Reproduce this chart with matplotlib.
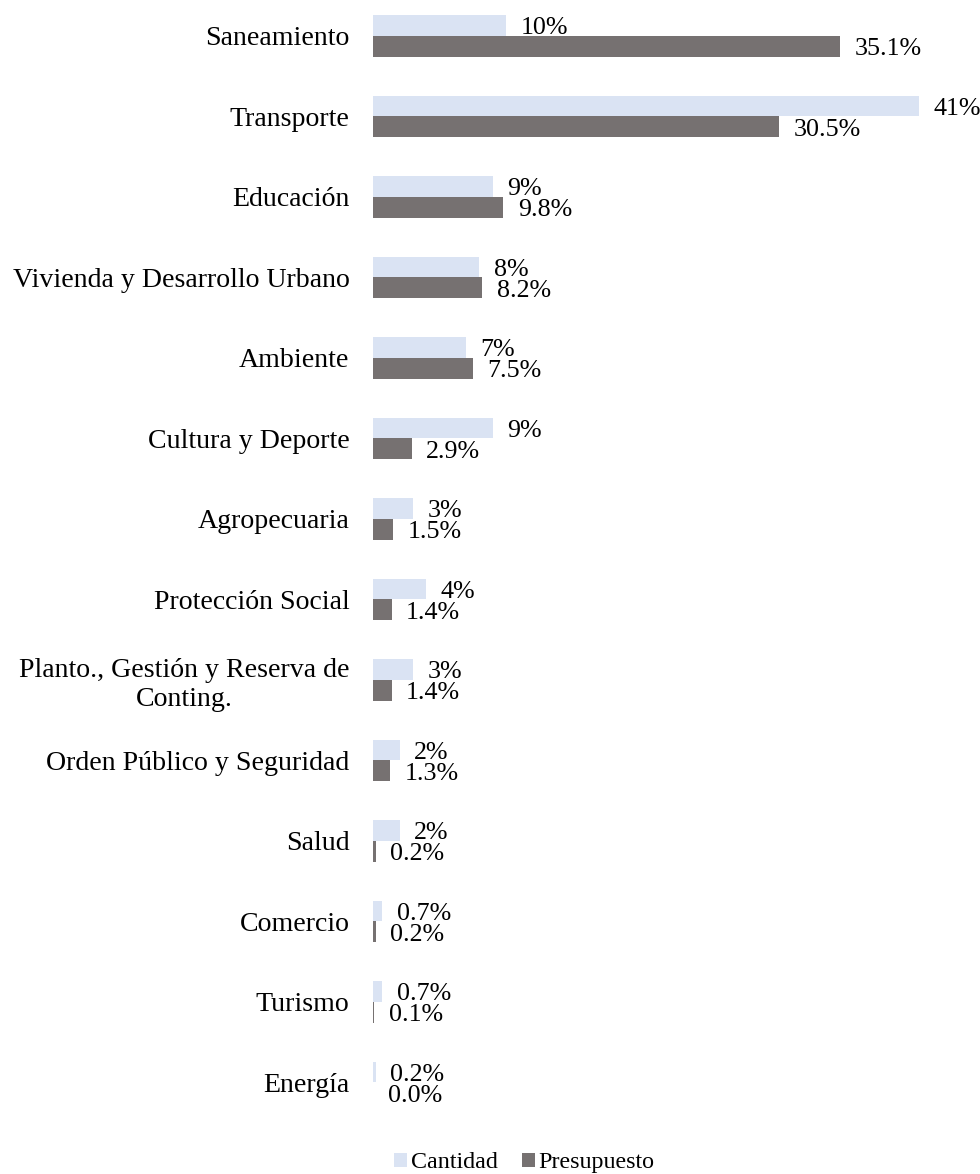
import numpy as np
import matplotlib
matplotlib.use("Agg")
import matplotlib.pyplot as plt

plt.rcParams['font.family'] = ['Liberation Serif', 'DejaVu Serif']

sectores = ["Saneamiento", "Transporte", "Educación", "Vivienda y Desarrollo Urbano",
            "Ambiente", "Cultura y Deporte", "Agropecuaria", "Protección Social",
            "Planto., Gestión y Reserva de\nConting.", "Orden Público y Seguridad",
            "Salud", "Comercio", "Turismo", "Energía"]
cantidad = [10, 41, 9, 8, 7, 9, 3, 4, 3, 2, 2, 0.7, 0.7, 0.2]
presupuesto = [35.1, 30.5, 9.8, 8.2, 7.5, 2.9, 1.5, 1.4, 1.4, 1.3, 0.2, 0.2, 0.1, 0.0]

c_cant = "#DAE3F3"
c_pres = "#767171"


def fmt_cant(v):
    return f"{v:.1f}%" if v < 1 else f"{v:.0f}%"


fig = plt.figure(figsize=(9.8, 11.74), dpi=100)
ax = fig.add_axes([0.3806, 0.0375, 0.6153, 0.9625])

y = np.arange(len(sectores))
h = 0.26
b1 = ax.barh(y - h / 2, cantidad, height=h, color=c_cant, label="Cantidad")
b2 = ax.barh(y + h / 2, presupuesto, height=h, color=c_pres, label="Presupuesto")

for rect, v in zip(b1, cantidad):
    ax.annotate(fmt_cant(v), (rect.get_width(), rect.get_y() + rect.get_height() / 2),
                xytext=(10.5, -2), textcoords="offset points", ha="left", va="center",
                fontsize=18.7)
for rect, v in zip(b2, presupuesto):
    ax.annotate(f"{v:.1f}%", (rect.get_width(), rect.get_y() + rect.get_height() / 2),
                xytext=(10.5, -2), textcoords="offset points", ha="left", va="center",
                fontsize=18.7)

ax.set_xlim(0, 45.3)
ax.set_ylim(13.59, -0.447)
ax.set_yticks(y)
ax.set_yticklabels(sectores, fontsize=20.1)
for lbl in ax.get_yticklabels():
    lbl.set_multialignment("center")
ax.tick_params(axis="y", length=0, pad=17)
ax.set_xticks([])
for s in ax.spines.values():
    s.set_visible(False)

fig.legend(handles=[b1, b2], loc="center", bbox_to_anchor=(0.535, 0.0095), ncol=2,
           frameon=False, fontsize=17.3, handlelength=0.55, handleheight=0.55,
           handletextpad=0.15, columnspacing=1.0)

fig.savefig("out.png", dpi=100)
